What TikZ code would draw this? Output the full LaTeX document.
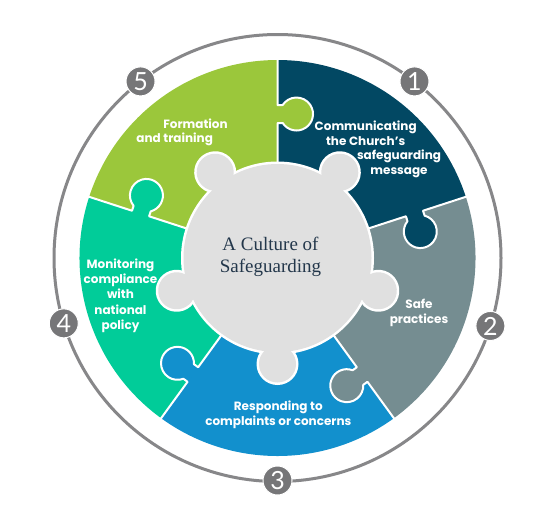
\documentclass[tikz,border=0pt]{standalone}
\usepackage{fontspec}
\setmainfont{Poppins}
\newfontfamily\serifcap{Liberation Serif}
\newfontfamily\numfont{Lato}
\usetikzlibrary{calc}
\definecolor{cgreen}{RGB}{155,199,59}
\definecolor{cnavy}{RGB}{2,72,99}
\definecolor{cslate}{RGB}{117,141,145}
\definecolor{cblue}{RGB}{18,144,205}
\definecolor{cteal}{RGB}{1,204,153}
\definecolor{ccenter}{RGB}{224,224,224}
\definecolor{cring}{RGB}{135,135,137}
\definecolor{cnum}{RGB}{118,118,120}
\definecolor{ctitle}{RGB}{35,55,75}
\begin{document}
\begin{tikzpicture}[x=1pt,y=1pt,
  ringline/.style={draw=cring,line width=3pt},
  sepline/.style={draw=white,line width=2pt,line join=round},
  numc/.style={circle,fill=cnum,draw=white,line width=1pt,minimum size=29pt,inner sep=0pt,text=white,font=\numfont\fontsize{25}{25}\selectfont},
  lbl/.style={text=white,align=center,inner sep=0pt,font=\bfseries\fontsize{12}{15.3}\selectfont},
  title/.style={text=ctitle,align=center,inner sep=0pt,font=\serifcap\fontsize{19}{22.5}\selectfont}]
\useasboundingbox[fill=white] (0,0) rectangle (540,-507);
\coordinate (C) at (277.5,-258);
% outer ring
\draw[ringline] (C) circle[radius=223.5pt];
% sectors
\foreach \s/\col in {90/cgreen,18/cnavy,-54/cslate,-126/cblue,162/cteal}{
  \fill[\col] (C) -- ++(\s:198) arc[start angle=\s,end angle=\s+72,radius=198pt] -- cycle;
}
% tabs
\foreach \s/\col in {90/cgreen,18/cnavy,-54/cslate,-126/cblue,162/cteal}{
  \begin{scope}[shift={(C)},rotate=\s-90]
    \fill[\col] (-1,135) rectangle (8,153);
    \fill[\col] (19,144) circle[radius=16.5pt];
  \end{scope}
}
% separators with bumps
\foreach \s in {90,18,-54,-126,162}{
  \begin{scope}[shift={(C)},rotate=\s-90]
    \draw[sepline] (0,60) -- (0,135) -- (5.17,135)
      arc[start angle=213.05,end angle=506.95,radius=16.5pt]
      -- (0,153) -- (0,203);
  \end{scope}
}
% center piece: white outline
\fill[white] (C) circle[radius=96.5pt];
\foreach \a in {-90,-18,54,126,198}{
  \begin{scope}[shift={(C)},rotate=\a-90]
    \fill[white] (0,106) circle[radius=21pt];
    \fill[white] (-13.5,80) rectangle (13.5,106);
  \end{scope}
}
\fill[ccenter] (C) circle[radius=94pt];
\foreach \a in {-90,-18,54,126,198}{
  \begin{scope}[shift={(C)},rotate=\a-90]
    \fill[ccenter] (0,106) circle[radius=18.5pt];
    \fill[ccenter] (-11,80) rectangle (11,106);
  \end{scope}
}
% numbers
\node[numc] (n1) at ($(C)+(52.2:223.5)$) {1};
\node[numc] (n2) at ($(C)+(-17.7:223.5)$) {2};
\node[numc] (n3) at ($(C)+(-90:222.5)$) {3};
\node[numc] (n4) at ($(C)+(197:223.5)$) {4};
\node[numc] (n5) at ($(C)+(127.8:223.5)$) {5};
% labels
\node[lbl] (l5a) at (195.5,-124) {Formation};
\node[lbl] (l5b) at (174.7,-139) {and training};
\node[lbl] (l1a) at (365.7,-133.5) {Communicating\\the Church's};
\node[lbl] (l1b) at (399,-163.5) {safeguarding\\message};
\node[lbl] (l2) at (419,-313) {Safe\\practices};
\node[lbl] (l3) at (278.3,-415) {Responding to\\complaints or concerns};
\node[lbl] (l4) at (120.5,-295.7) {Monitoring\\compliance\\with\\national\\policy};
\node[title] (t) at (270.5,-257) {A Culture of\\Safeguarding};
\end{tikzpicture}
\end{document}
